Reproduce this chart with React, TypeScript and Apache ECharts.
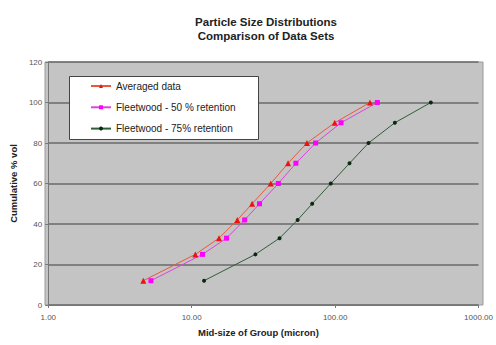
import React, { useEffect, useRef } from "react";
import * as echarts from "echarts";

const yValues = [12, 25, 33, 42, 50, 60, 70, 80, 90, 100];
const averagedX = [4.6, 10.6, 15.5, 20.8, 26.4, 35.6, 47.0, 63.6, 99.4, 175];
const fleet50X = [5.2, 11.9, 17.5, 23.4, 29.7, 40.2, 53.3, 73.1, 110, 197];
const fleet75X = [12.2, 27.8, 41.0, 54.8, 69.2, 93.3, 126, 171, 261, 465];
const seriesNames = [
  "Averaged data",
  "Fleetwood - 50 % retention",
  "Fleetwood - 75% retention",
];

const pair = (xs: number[]) => xs.map((x, i) => [x, yValues[i]]);

export default function App() {
  const ref = useRef<HTMLDivElement>(null);
  useEffect(() => {
    if (!ref.current) return;
    const chart = echarts.init(ref.current, undefined, { renderer: "svg" });
    const font = "Liberation Sans, Arial, sans-serif";
    chart.setOption({
      animation: false,
      backgroundColor: "#ffffff",
      title: {
        text: "Particle Size Distributions\nComparison of Data Sets",
        left: 261,
        textAlign: "center",
        top: 10,
        textStyle: {
          fontFamily: font,
          fontSize: 11.5,
          fontWeight: "bold",
          color: "#222",
          lineHeight: 14,
        },
      },
      grid: { left: 45, right: 13, top: 62, bottom: 40 },
      xAxis: {
        type: "log",
        logBase: 10,
        min: 1,
        max: 1000,
        name: "Mid-size of Group (micron)",
        nameLocation: "middle",
        nameGap: 22,
        nameTextStyle: { fontFamily: font, fontSize: 9.5, fontWeight: "bold", color: "#222", padding: [0, 10, 0, 0] },
        axisLine: { show: true, lineStyle: { color: "#777", width: 1 } },
        axisTick: { show: true, inside: false, length: 3, lineStyle: { color: "#777" } },
        minorTick: { show: false },
        splitLine: { show: false },
        axisLabel: {
          fontFamily: font,
          fontSize: 8,
          color: "#555",
          margin: 8,
          formatter: (v: number) => v.toFixed(2),
        },
      },
      yAxis: {
        type: "value",
        min: 0,
        max: 120,
        interval: 20,
        name: "Cumulative % vol",
        nameLocation: "middle",
        nameGap: 30,
        nameTextStyle: { fontFamily: font, fontSize: 9.5, fontWeight: "bold", color: "#222" },
        axisLine: { show: true, lineStyle: { color: "#777", width: 1 } },
        axisTick: { show: true, inside: false, length: 3, lineStyle: { color: "#777" } },
        splitLine: { show: true, lineStyle: { color: "#6a6a6a", width: 1.5 } },
        axisLabel: { fontFamily: font, fontSize: 8, color: "#555", margin: 6 },
      },
      graphic: [
        {
          type: "rect",
          z: -10,
          silent: true,
          shape: { x: 45, y: 62, width: 438, height: 243 },
          style: { fill: "#c4c4c4", stroke: "#9a9a9a", lineWidth: 1 },
        },
        {
          type: "rect",
          z: 3,
          silent: true,
          shape: { x: 69.5, y: 76.5, width: 189, height: 63 },
          style: { fill: "#ffffff", stroke: "#444", lineWidth: 1 },
        },
      ],
      legend: {
        orient: "vertical",
        left: 72,
        top: 81,
        padding: [0, 0, 0, 18],
        itemWidth: 20,
        itemHeight: 5,
        itemGap: 11.3,
        textStyle: { fontFamily: font, fontSize: 10, color: "#222" },
        data: seriesNames,
      },
      series: [
        {
          name: seriesNames[0],
          type: "line",
          data: pair(averagedX),
          symbol: "triangle",
          symbolSize: 6,
          itemStyle: { color: "#ee1111" },
          lineStyle: { color: "#e8593c", width: 1 },
        },
        {
          name: seriesNames[1],
          type: "line",
          data: pair(fleet50X),
          symbol: "rect",
          symbolSize: 5,
          itemStyle: { color: "#ff00ff" },
          lineStyle: { color: "#dd44dd", width: 1 },
        },
        {
          name: seriesNames[2],
          type: "line",
          data: pair(fleet75X),
          symbol: "circle",
          symbolSize: 4,
          itemStyle: { color: "#0a2a10" },
          lineStyle: { color: "#2e5e3a", width: 1 },
        },
      ],
    });
    return () => chart.dispose();
  }, []);
  return <div ref={ref} style={{ width: 496, height: 345, position: "absolute", left: 0, top: 0 }} />;
}
